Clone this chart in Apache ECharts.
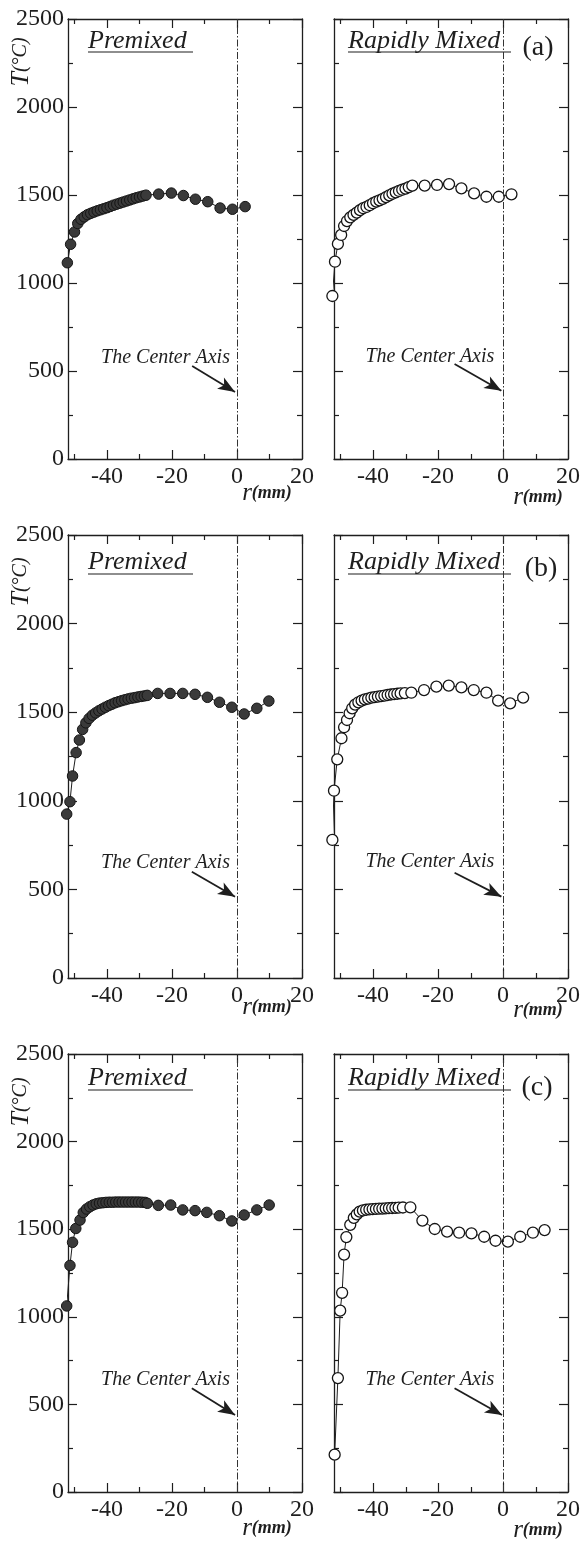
<!DOCTYPE html>
<html><head><meta charset="utf-8">
<script src="https://cdn.jsdelivr.net/npm/echarts@6/dist/echarts.min.js"></script>
<style>html,body{margin:0;padding:0;background:#fff}#c{width:583px;height:1549px}</style>
</head><body><div id="c"></div>
<script>
// ---------- DATA ----------
const aPreR = [-52.2,-51.2,-50,-49,-48,-47,-46,-45,-44,-43,-42,-41,-40,-39,-38,-37,-36,-35,-34,-33,-32,-31,-30,-29,-28,-24.1,-20.2,-16.5,-12.8,-9.0,-5.2,-1.4,2.5];
const aPreT = [1115,1220,1290,1338,1362,1376,1388,1396,1403,1410,1416,1422,1428,1435,1442,1448,1454,1460,1466,1472,1478,1484,1489,1494,1499,1505,1511,1497,1476,1462,1426,1419,1434];
const aRapR = [-52.5,-51.7,-50.8,-49.8,-48.9,-48,-47,-46,-45,-44,-43,-42,-41,-40,-39,-38,-37,-36,-35,-34,-33,-32,-31,-30,-29,-27.9,-24.1,-20.3,-16.6,-12.8,-8.9,-5.1,-1.3,2.6];
const aRapT = [926,1121,1222,1273,1324,1352,1373,1387,1400,1414,1425,1432,1442,1453,1462,1470,1478,1488,1498,1507,1515,1523,1530,1536,1545,1553,1553,1557,1562,1538,1509,1490,1490,1504];
const bPreR = [-52.4,-51.4,-50.6,-49.5,-48.5,-47.5,-46.5,-45.5,-44.5,-43.5,-42.5,-41.5,-40.5,-39.5,-38.5,-37.5,-36.5,-35.5,-34.5,-33.5,-32.5,-31.5,-30.5,-29.5,-28.5,-27.6,-24.4,-20.6,-16.7,-12.9,-9.1,-5.4,-1.6,2.2,6.1,9.8];
const bPreT = [925,995,1140,1272,1343,1403,1440,1465,1483,1496,1508,1518,1528,1537,1545,1553,1559,1565,1570,1575,1579,1582,1586,1589,1592,1595,1606,1606,1606,1601,1584,1556,1528,1490,1522,1563];
const bRapR = [-52.5,-52.0,-51.0,-49.7,-48.9,-48.0,-47.2,-46.4,-45.5,-44.5,-43.5,-42.5,-41.5,-40.5,-39.5,-38.5,-37.5,-36.5,-35.5,-34.5,-33.5,-32.5,-31.5,-30.2,-28.2,-24.3,-20.5,-16.7,-12.8,-9.0,-5.1,-1.5,2.2,6.2];
const bRapT = [779,1057,1234,1353,1415,1456,1494,1522,1543,1556,1565,1572,1577,1582,1585,1588,1591,1594,1597,1600,1602,1604,1606,1608,1610,1625,1644,1650,1640,1625,1610,1565,1550,1582];
const cPreR = [-52.4,-51.4,-50.6,-49.6,-48.3,-47.3,-46.3,-45.3,-44.3,-43.3,-42.3,-41.3,-40.3,-39.3,-38.3,-37.3,-36.3,-35.3,-34.3,-33.3,-32.3,-31.3,-30.3,-29.3,-28.3,-27.6,-24.2,-20.4,-16.7,-12.9,-9.3,-5.4,-1.6,2.2,6.1,9.9];
const cPreT = [1062,1293,1425,1504,1552,1595,1615,1628,1638,1645,1649,1651,1653,1654,1654,1655,1655,1655,1655,1655,1655,1655,1655,1654,1653,1648,1636,1638,1610,1606,1596,1577,1547,1581,1610,1638];
const cRapR = [-51.8,-50.8,-50.1,-49.5,-48.9,-48.2,-47.0,-45.9,-45.0,-44.1,-43.1,-42.1,-41.1,-40.1,-39.1,-38.1,-37.1,-36.1,-35.1,-34.1,-33.1,-32.1,-30.8,-28.5,-24.8,-21.0,-17.2,-13.5,-9.7,-5.8,-2.3,1.5,5.3,9.2,12.8];
const cRapT = [213,650,1035,1137,1355,1455,1525,1565,1585,1600,1607,1611,1613,1615,1616,1617,1618,1619,1620,1621,1622,1623,1624,1625,1549,1501,1486,1480,1476,1457,1434,1429,1457,1480,1495];

const xLabelTicks = [-40,-20,0,20];
const xMinorTicks = [-50,-30,-10,10];
const panelTitles = ['Premixed','Rapidly Mixed'];
const panelTags = ['(a)','(b)','(c)'];
const annText = 'The Center Axis';
// annotation anchors (r, T) per panel: text center, arrow start, arrow end
const annTextR = [-22,-22.5,-22,-22.5,-22,-22.5];
const annTextT = [574,580,650,656,639,639];
const annFromR = [-13.8,-14.9,-13.9,-14.9,-13.9,-14.9];
const annFromT = [528,540,600,594,592,592];
const annToR   = [-0.6,-0.5,-0.6,-0.5,-0.6,-0.3];
const annToT   = [381,388,459,459,440,440];

// ---------- LAYOUT ----------
const colLeft = [68,334], colWidth = [234,235];
const rowTop = [19,535,1054], rowHeight = [440,443,438];
const FONT = '"Liberation Serif","Times New Roman",serif';
const INK = '#1e1e1e';

const panels = [
  {r:aPreR,t:aPreT,filled:true},{r:aRapR,t:aRapT,filled:false},
  {r:bPreR,t:bPreT,filled:true},{r:bRapR,t:bRapT,filled:false},
  {r:cPreR,t:cPreT,filled:true},{r:cRapR,t:cRapT,filled:false}
];

const grid=[], xAxis=[], yAxis=[], series=[];
const axLine = {show:true,onZero:false,lineStyle:{color:INK,width:1.3}};
panels.forEach((p,i)=>{
  const row=Math.floor(i/2), col=i%2;
  const g = {left:colLeft[col],top:rowTop[row],width:colWidth[col],height:rowHeight[row]};
  grid.push(Object.assign({},g), Object.assign({},g));
  const gMain=2*i, gOv=2*i+1;
  const xBase = {type:'value',min:-52,max:20,splitLine:{show:false}};
  xAxis.push(Object.assign({},xBase,{gridIndex:gMain,position:'bottom',axisLine:axLine,
    axisTick:{show:true,inside:true,length:9,customValues:xLabelTicks,lineStyle:{color:INK,width:1.2}},
    axisLabel:{show:true,customValues:xLabelTicks,margin:6,fontFamily:FONT,fontSize:24,color:INK,formatter:v=>String(v)}}));
  xAxis.push(Object.assign({},xBase,{gridIndex:gMain,position:'top',axisLine:axLine,
    axisTick:{show:true,inside:true,length:9,customValues:xLabelTicks,lineStyle:{color:INK,width:1.2}},
    axisLabel:{show:false}}));
  xAxis.push(Object.assign({},xBase,{gridIndex:gOv,position:'bottom',axisLine:{show:false,onZero:false},
    axisTick:{show:true,inside:true,length:5,customValues:xMinorTicks,lineStyle:{color:INK,width:1.2}},
    axisLabel:{show:false}}));
  xAxis.push(Object.assign({},xBase,{gridIndex:gOv,position:'top',axisLine:{show:false,onZero:false},
    axisTick:{show:true,inside:true,length:5,customValues:xMinorTicks,lineStyle:{color:INK,width:1.2}},
    axisLabel:{show:false}}));
  const yBase = {type:'value',min:0,max:2500,interval:500,splitLine:{show:false},
    axisTick:{show:true,inside:true,length:9,lineStyle:{color:INK,width:1.2}},
    minorTick:{show:true,splitNumber:2,length:5,lineStyle:{color:INK,width:1.2}},axisLine:axLine};
  yAxis.push(Object.assign({},yBase,{gridIndex:gMain,position:'left',
    axisLabel:{show:col===0,margin:4,fontFamily:FONT,fontSize:24,color:INK,formatter:v=>String(v)}}));
  yAxis.push(Object.assign({},yBase,{gridIndex:gMain,position:'right',axisLabel:{show:false}}));
  yAxis.push({gridIndex:gOv,type:'value',min:0,max:2500,show:false});

  series.push({
    type:'line', xAxisIndex:4*i, yAxisIndex:3*i, clip:false, animation:false,
    data:p.r.map((r,k)=>[r,p.t[k]]),
    symbol:'circle', symbolSize:p.filled?10.5:11, showAllSymbol:true,
    lineStyle:{color:INK,width:1},
    itemStyle:p.filled?{color:'#3a3a3a',borderColor:'#151515',borderWidth:1}:{color:'#fff',borderColor:'#151515',borderWidth:1.3},
    z:3,
    markLine:{silent:true,animation:false,label:{show:false},symbol:['none','none'],
      lineStyle:{color:'#333',width:1,type:[7,2,1.5,2]},
      data:[
        {xAxis:0},
        [{coord:[annFromR[i],annFromT[i]],symbol:'none',lineStyle:{type:'solid',width:1.8,color:INK}},
         {coord:[annToR[i],annToT[i]],symbol:'arrow',symbolSize:[10,17]}]
      ]},
    markPoint:{silent:true,animation:false,symbol:'rect',symbolSize:1,itemStyle:{color:'rgba(0,0,0,0)'},
      label:{show:true,position:'inside',formatter:annText,fontFamily:FONT,fontStyle:'italic',fontSize:20,color:INK},
      data:[{coord:[annTextR[i],annTextT[i]]}]}
  });
});

// ---------- TEXT GRAPHICS ----------
const graphic=[];
const titleBase=[50,571,1087], underY=[52,574,1090];
const titleX=[88,348], titleEnd=[193,511];
const tagPos=[[538,48],[541,569],[537,1088]];
const yNamePos=[[21,62],[21,582],[21,1102]];
const xNamePos=[[[267,493],[538,497]],[[267,1007],[538,1010]],[[267,1528],[538,1530]]];
function txt(x,y,text,font,align,vAlign,extra){
  return Object.assign({type:'text',x:x,y:y,silent:true,style:{text:text,font:font,fill:INK,
    align:align,verticalAlign:vAlign,textAlign:align,textVerticalAlign:vAlign}},extra||{});
}
for(let row=0;row<3;row++){
  for(let col=0;col<2;col++){
    graphic.push(txt(titleX[col],titleBase[row]-9,panelTitles[col],'italic 26px '+FONT,'left','middle'));
    graphic.push({type:'line',silent:true,shape:{x1:titleX[col],y1:underY[row],x2:titleEnd[col],y2:underY[row]},style:{stroke:INK,lineWidth:1.2}});
    const xp=xNamePos[row][col];
    graphic.push({type:'text',x:xp[0],y:xp[1],silent:true,style:{
      text:'{r|r}{m|(mm)}',align:'center',verticalAlign:'middle',textAlign:'center',textVerticalAlign:'middle',
      rich:{r:{fontFamily:FONT,fontStyle:'italic',fontSize:25,fill:INK,color:INK},
            m:{fontFamily:FONT,fontStyle:'italic',fontWeight:'bold',fontSize:18,fill:INK,color:INK}}}});
  }
  graphic.push(txt(tagPos[row][0],tagPos[row][1],panelTags[row],'28px '+FONT,'center','middle'));
  graphic.push({type:'text',x:yNamePos[row][0],y:yNamePos[row][1],rotation:Math.PI/2,silent:true,style:{
    text:'{t|T}{c|(°C)}',align:'center',verticalAlign:'middle',textAlign:'center',textVerticalAlign:'middle',
    rich:{t:{fontFamily:FONT,fontStyle:'italic',fontSize:26,fill:INK,color:INK},
          c:{fontFamily:FONT,fontStyle:'italic',fontSize:20,fill:INK,color:INK}}}});
}

const chart = echarts.init(document.getElementById('c'),null,{renderer:'canvas'});
chart.setOption({backgroundColor:'#fff',animation:false,grid,xAxis,yAxis,series,graphic});
</script></body></html>
